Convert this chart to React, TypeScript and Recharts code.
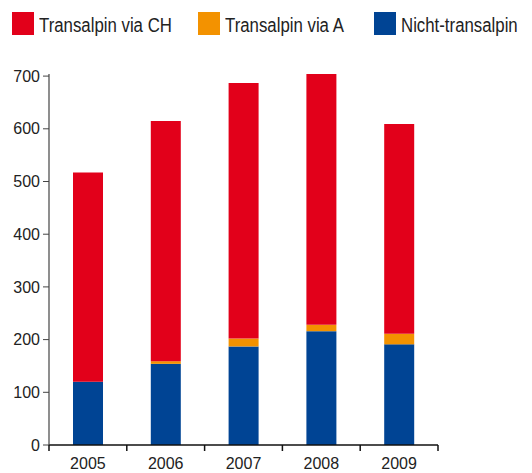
import React from 'react';
import { BarChart, Bar, XAxis, YAxis } from 'recharts';

const years = ['2005', '2006', '2007', '2008', '2009'];
const nichtTransalpin = [120, 154, 187, 216, 191];
const viaA = [0, 5, 15, 12, 20];
const viaCH = [397, 456, 485, 476, 398];
const yTicks = [0, 100, 200, 300, 400, 500, 600, 700];

const series = [
  { key: 'viaCH', name: 'Transalpin via CH', color: '#E2001A' },
  { key: 'viaA', name: 'Transalpin via A', color: '#F39200' },
  { key: 'nicht', name: 'Nicht-transalpin', color: '#004494' },
];

const data = years.map((year, i) => ({
  year,
  nicht: nichtTransalpin[i],
  viaA: viaA[i],
  viaCH: viaCH[i],
}));

const FONT = "'Liberation Sans', Arial, sans-serif";
const W = 532;
const H = 473;
const margin = { top: 74, right: 94, bottom: 0, left: 0 };
const Y_AXIS_W = 49;
const X_AXIS_H = 28;
const PLOT_W = W - margin.left - margin.right - Y_AXIS_W;
const HALF_BAND = PLOT_W / years.length / 2;
const X_TICK_MARGIN = 13;

// category label in the middle, tick marks on the band boundaries
const YearTick = (props: any) => {
  const { x, y, payload, index } = props;
  const axisY = y - X_TICK_MARGIN;
  return (
    <g>
      <line x1={x - HALF_BAND} x2={x - HALF_BAND} y1={axisY} y2={axisY + 6} stroke="#111" strokeWidth={1.5} />
      {index === years.length - 1 && (
        <line x1={x + HALF_BAND} x2={x + HALF_BAND} y1={axisY} y2={axisY + 6} stroke="#111" strokeWidth={1.5} />
      )}
      <text x={x} y={y} dy="0.71em" textAnchor="middle" fill="#222" fontSize={16} fontFamily={FONT}>
        {payload.value}
      </text>
    </g>
  );
};

const legendLeft = [12, 198, 374];

export default function App() {
  return (
    <div style={{ position: 'absolute', left: 0, top: 0, width: W, height: H, background: '#fff', overflow: 'hidden' }}>
      {series.map((s, i) => (
        <div
          key={s.key}
          style={{
            position: 'absolute',
            left: legendLeft[i],
            top: 12,
            display: 'flex',
            alignItems: 'flex-end',
            whiteSpace: 'nowrap',
            fontFamily: FONT,
            fontSize: 20,
            color: '#222',
            lineHeight: '23px',
          }}
        >
          <span style={{ display: 'inline-block', width: 22, height: 23, background: s.color, marginRight: 5 }} />
          <span
            style={{
              display: 'inline-block',
              position: 'relative',
              top: 2,
              transform: 'scaleX(0.84)',
              transformOrigin: 'left center',
            }}
          >
            {s.name}
          </span>
        </div>
      ))}
      <BarChart width={W} height={H} data={data} margin={margin} barSize={30}>
        <XAxis
          dataKey="year"
          height={X_AXIS_H}
          axisLine={{ stroke: '#111', strokeWidth: 1.5 }}
          tickLine={false}
          tickSize={0}
          tickMargin={X_TICK_MARGIN}
          tick={<YearTick />}
          interval={0}
        />
        <YAxis
          width={Y_AXIS_W}
          domain={[0, 700]}
          ticks={yTicks}
          interval={0}
          axisLine={{ stroke: '#444', strokeWidth: 1.2 }}
          tickLine={{ stroke: '#444' }}
          tickSize={6}
          tickMargin={3}
          tick={{ fill: '#222', fontSize: 16, fontFamily: FONT }}
        />
        <Bar dataKey="nicht" stackId="a" fill="#004494" isAnimationActive={false} />
        <Bar dataKey="viaA" stackId="a" fill="#F39200" isAnimationActive={false} />
        <Bar dataKey="viaCH" stackId="a" fill="#E2001A" isAnimationActive={false} />
      </BarChart>
    </div>
  );
}
